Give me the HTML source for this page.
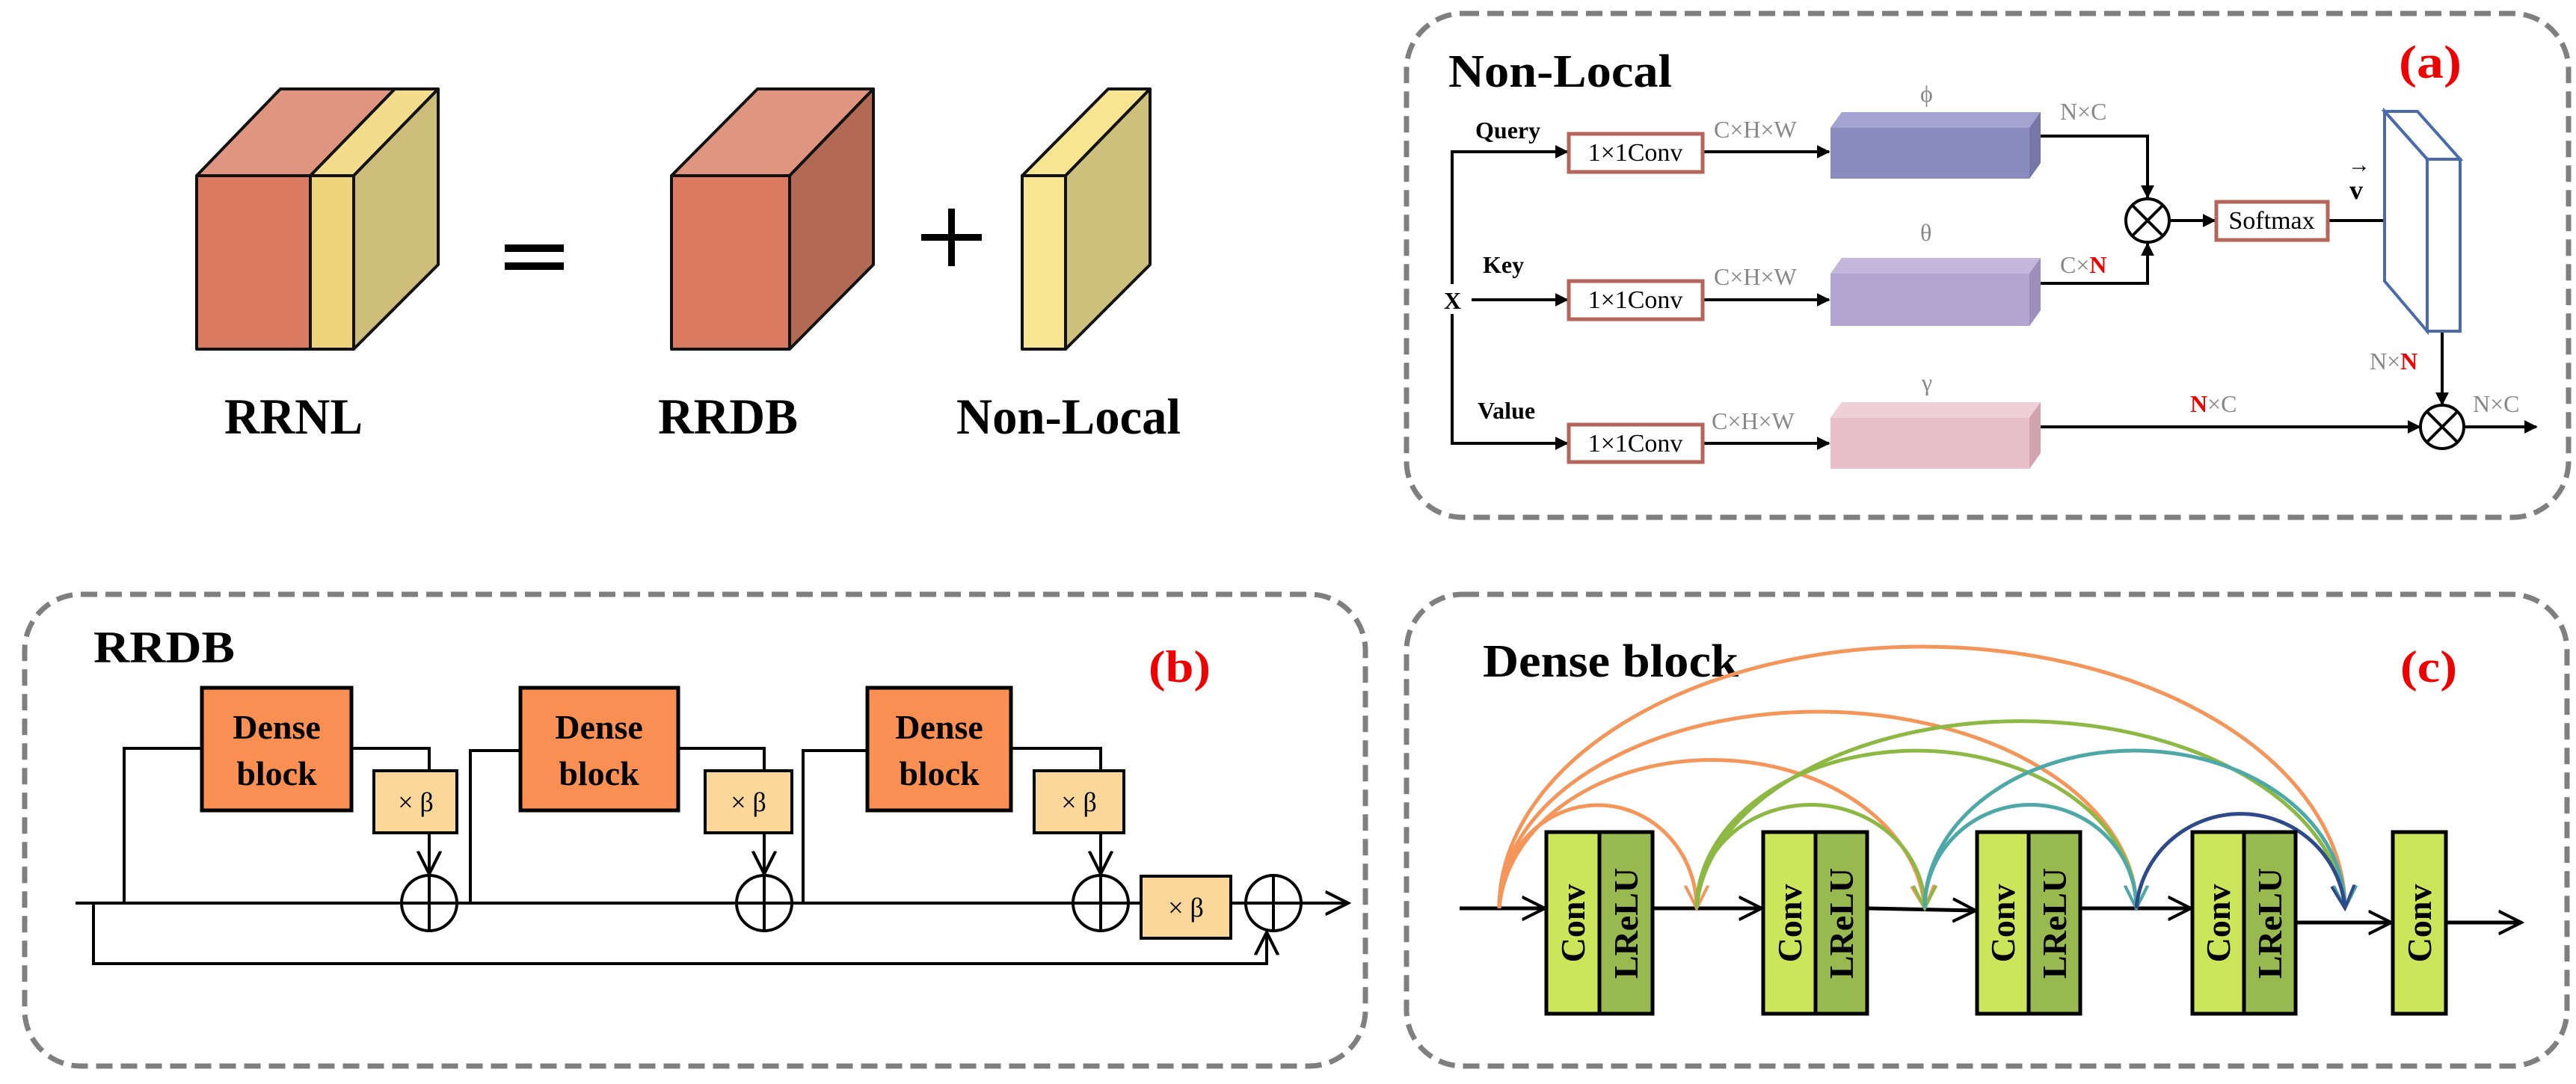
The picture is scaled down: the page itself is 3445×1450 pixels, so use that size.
<!DOCTYPE html>
<html><head><meta charset="utf-8"><style>
html,body{margin:0;padding:0;background:#fff}
svg{display:block}
text{font-family:"Liberation Serif",serif;font-weight:bold}
</style></head><body>
<svg width="3445" height="1450" viewBox="0 0 3445 1450" xmlns="http://www.w3.org/2000/svg">
<defs>
<marker id="ah" viewBox="0 0 10 10" refX="9" refY="5" markerWidth="7" markerHeight="7" orient="auto" markerUnits="userSpaceOnUse"><path d="M0,0 L10,5 L0,10 z" fill="#000"/></marker>
<marker id="ahs" viewBox="0 0 10 10" refX="9" refY="5" markerWidth="18" markerHeight="18" orient="auto" markerUnits="userSpaceOnUse"><path d="M0,0 L10,5 L0,10 z" fill="#000"/></marker>
<marker id="ov" viewBox="0 0 10 10" refX="9" refY="5" markerWidth="34" markerHeight="34" orient="auto" markerUnits="userSpaceOnUse"><path d="M0,0.5 L9,5 L0,9.5" fill="none" stroke="#000" stroke-width="1.2"/></marker>
<marker id="mo" viewBox="0 0 10 10" refX="9" refY="5" markerWidth="34" markerHeight="34" orient="auto" markerUnits="userSpaceOnUse"><path d="M0,0.5 L9,5 L0,9.5" fill="none" stroke="#f4955a" stroke-width="1.2"/></marker>
<marker id="mg" viewBox="0 0 10 10" refX="9" refY="5" markerWidth="34" markerHeight="34" orient="auto" markerUnits="userSpaceOnUse"><path d="M0,0.5 L9,5 L0,9.5" fill="none" stroke="#8db843" stroke-width="1.2"/></marker>
<marker id="mt" viewBox="0 0 10 10" refX="9" refY="5" markerWidth="34" markerHeight="34" orient="auto" markerUnits="userSpaceOnUse"><path d="M0,0.5 L9,5 L0,9.5" fill="none" stroke="#4fa8a8" stroke-width="1.2"/></marker>
<marker id="mn" viewBox="0 0 10 10" refX="9" refY="5" markerWidth="34" markerHeight="34" orient="auto" markerUnits="userSpaceOnUse"><path d="M0,0.5 L9,5 L0,9.5" fill="none" stroke="#2f4a8a" stroke-width="1.2"/></marker>
</defs>

<!-- Top-left cubes -->
<g stroke="#111" stroke-width="4" stroke-linejoin="round">
<polygon points="263,235 375,119 528,119 415,235" fill="#e09581"/>
<polygon points="415,235 528,119 586,119 473,235" fill="#f3dc8c"/>
<polygon points="473,235 586,119 586,354 473,467" fill="#cdbd7a"/>
<rect x="263" y="235" width="152" height="232" fill="#d97a61"/>
<rect x="415" y="235" width="58" height="232" fill="#f0d47c"/>
<polygon points="898,235 1013,119 1168,119 1056,235" fill="#e09581"/>
<polygon points="1056,235 1168,119 1168,354 1056,467" fill="#b36a55"/>
<rect x="898" y="235" width="158" height="232" fill="#d97a61"/>
<polygon points="1367,235 1482,119 1538,119 1425,235" fill="#f8e592"/>
<polygon points="1425,235 1538,119 1538,354 1425,467" fill="#cdbf7c"/>
<rect x="1367" y="235" width="58" height="232" fill="#f8e592"/>
</g>
<rect x="675" y="327" width="79" height="10" fill="#000"/>
<rect x="675" y="351" width="79" height="10" fill="#000"/>
<rect x="1232" y="313" width="81" height="9" fill="#000"/>
<rect x="1268" y="279" width="9" height="77" fill="#000"/>
<text x="300" y="580" font-size="68" textLength="185" lengthAdjust="spacingAndGlyphs">RRNL</text>
<text x="880" y="580" font-size="68" textLength="187" lengthAdjust="spacingAndGlyphs">RRDB</text>
<text x="1279" y="580" font-size="68" textLength="300" lengthAdjust="spacingAndGlyphs">Non-Local</text>

<!-- Panel a -->
<rect x="1881" y="18" width="1554" height="674" rx="75" fill="none" stroke="#7f7f7f" stroke-width="7" stroke-dasharray="22,11"/>
<text x="1937" y="116" font-size="62" textLength="299" lengthAdjust="spacingAndGlyphs">Non-Local</text>
<text x="3208" y="104" font-size="62" fill="#e00" textLength="84" lengthAdjust="spacingAndGlyphs">(a)</text>
<g stroke="#000" stroke-width="4" fill="none">
<polyline points="2000,203 1942,203 1942,380"/>
<polyline points="1942,420 1942,593 2000,593"/>
<line x1="1942" y1="203" x2="2096" y2="203" marker-end="url(#ahs)"/>
<line x1="1968" y1="401" x2="2096" y2="401" marker-end="url(#ahs)"/>
<line x1="1942" y1="593" x2="2096" y2="593" marker-end="url(#ahs)"/>
<line x1="2277" y1="203" x2="2446" y2="203" marker-end="url(#ahs)"/>
<line x1="2277" y1="401" x2="2446" y2="401" marker-end="url(#ahs)"/>
<line x1="2277" y1="593" x2="2446" y2="593" marker-end="url(#ahs)"/>
<polyline points="2729,182 2872,182 2872,264" marker-end="url(#ahs)"/>
<polyline points="2729,379 2872,379 2872,326" marker-end="url(#ahs)"/>
<line x1="2901" y1="295" x2="2962" y2="295" marker-end="url(#ahs)"/>
<line x1="3113" y1="295" x2="3215" y2="295" marker-end="url(#ahs)"/>
<line x1="2729" y1="571" x2="3236" y2="571" marker-end="url(#ahs)"/>
<line x1="3266" y1="443" x2="3266" y2="541" marker-end="url(#ahs)"/>
<line x1="3295" y1="571" x2="3392" y2="571" marker-end="url(#ahs)"/>
</g>
<g fill="#fff" stroke="#b5655a" stroke-width="5">
<rect x="2098" y="179" width="179" height="51"/>
<rect x="2098" y="376" width="179" height="51"/>
<rect x="2098" y="568" width="179" height="50"/>
<rect x="2964" y="270" width="149" height="51"/>
</g>
<g font-size="34" font-weight="normal">
<text x="2187" y="215" text-anchor="middle" style="font-weight:normal">1×1Conv</text>
<text x="2187" y="412" text-anchor="middle" style="font-weight:normal">1×1Conv</text>
<text x="2187" y="604" text-anchor="middle" style="font-weight:normal">1×1Conv</text>
<text x="3038" y="306" text-anchor="middle" style="font-weight:normal">Softmax</text>
</g>
<!-- feature boxes -->
<polygon points="2448,171 2463,150 2729,150 2729,218 2714,239 2448,239" fill="#8a8bbf"/>
<polygon points="2448,171 2463,150 2729,150 2714,171" fill="#a2a3cf"/>
<polygon points="2714,171 2729,150 2729,218 2714,239" fill="#7677a8"/>
<polygon points="2448,366 2463,345 2729,345 2729,415 2714,436 2448,436" fill="#b3a5cf"/>
<polygon points="2448,366 2463,345 2729,345 2714,366" fill="#c3b8dc"/>
<polygon points="2714,366 2729,345 2729,415 2714,436" fill="#9d8fbb"/>
<polygon points="2448,559 2463,538 2729,538 2729,606 2714,627 2448,627" fill="#e8bfca"/>
<polygon points="2448,559 2463,538 2729,538 2714,559" fill="#efd0d8"/>
<polygon points="2714,559 2729,538 2729,606 2714,627" fill="#cfa3af"/>
<!-- V block -->
<g fill="#fff" stroke="#4a6aab" stroke-width="4">
<polygon points="3189,149 3233,149 3290,213 3246,213"/>
<polygon points="3189,149 3246,213 3246,443 3189,376"/>
<rect x="3246" y="213" width="44" height="230"/>
</g>
<!-- otimes -->
<g stroke="#000" stroke-width="4" fill="#fff">
<circle cx="2872" cy="295" r="29"/>
<line x1="2852" y1="275" x2="2892" y2="315"/><line x1="2892" y1="275" x2="2852" y2="315"/>
<circle cx="3266" cy="571" r="29"/>
<line x1="3246" y1="551" x2="3286" y2="591"/><line x1="3286" y1="551" x2="3246" y2="591"/>
</g>
<g font-size="32">
<text x="1973" y="185">Query</text>
<text x="1983" y="365">Key</text>
<text x="1931" y="413">X</text>
<text x="1976" y="560">Value</text>
<text x="3142" y="266" font-size="36">v</text>
<text x="3140" y="230" font-size="30">→</text>
</g>
<g font-size="32" fill="#888" style="font-weight:normal">
<text x="2292" y="184" style="font-weight:normal">C×H×W</text>
<text x="2292" y="381" style="font-weight:normal">C×H×W</text>
<text x="2289" y="574" style="font-weight:normal">C×H×W</text>
<text x="2568" y="136" style="font-weight:normal">ϕ</text>
<text x="2568" y="322" style="font-weight:normal">θ</text>
<text x="2570" y="522" style="font-weight:normal">γ</text>
<text x="2755" y="160" style="font-weight:normal">N×C</text>
<text x="2755" y="365" style="font-weight:normal">C×<tspan fill="#e00" font-weight="bold">N</tspan></text>
<text x="3169" y="494" style="font-weight:normal">N×<tspan fill="#e00" font-weight="bold">N</tspan></text>
<text x="2929" y="551" style="font-weight:normal"><tspan fill="#e00" font-weight="bold">N</tspan>×C</text>
<text x="3307" y="551" style="font-weight:normal">N×C</text>
</g>

<!-- Panel b -->
<rect x="33" y="795" width="1793" height="631" rx="75" fill="none" stroke="#7f7f7f" stroke-width="7" stroke-dasharray="22,11"/>
<text x="125" y="886" font-size="60" textLength="189" lengthAdjust="spacingAndGlyphs">RRDB</text>
<text x="1536" y="912" font-size="60" fill="#e00" textLength="83" lengthAdjust="spacingAndGlyphs">(b)</text>
<g stroke="#000" stroke-width="4" fill="none">
<line x1="101" y1="1208" x2="1803" y2="1208" marker-end="url(#ov)"/>
<polyline points="166,1208 166,1001 270,1001"/>
<polyline points="470,1001 574,1001 574,1031"/>
<line x1="574" y1="1114" x2="574" y2="1169" marker-end="url(#ov)"/>
<polyline points="629,1208 629,1004 696,1004"/>
<polyline points="907,1001 1022,1001 1022,1031"/>
<line x1="1022" y1="1114" x2="1022" y2="1169" marker-end="url(#ov)"/>
<polyline points="1074,1208 1074,1004 1160,1004"/>
<polyline points="1352,1001 1472,1001 1472,1031"/>
<line x1="1472" y1="1114" x2="1472" y2="1169" marker-end="url(#ov)"/>
<polyline points="125,1208 125,1289 1694,1289 1694,1247" marker-end="url(#ov)"/>
</g>
<g stroke="#000" stroke-width="5" fill="#f98f53">
<rect x="270" y="920" width="200" height="164"/>
<rect x="696" y="920" width="211" height="164"/>
<rect x="1160" y="920" width="192" height="164"/>
</g>
<g stroke="#000" stroke-width="4" fill="#fbd89a">
<rect x="500" y="1031" width="111" height="83"/>
<rect x="943" y="1031" width="116" height="83"/>
<rect x="1383" y="1031" width="120" height="83"/>
<rect x="1526" y="1172" width="120" height="83"/>
</g>
<g font-size="46" text-anchor="middle">
<text x="370" y="988">Dense</text><text x="370" y="1050">block</text>
<text x="801" y="988">Dense</text><text x="801" y="1050">block</text>
<text x="1256" y="988">Dense</text><text x="1256" y="1050">block</text>
</g>
<g font-size="36" text-anchor="middle" style="font-weight:normal">
<text x="556" y="1085" style="font-weight:normal">× β</text>
<text x="1001" y="1085" style="font-weight:normal">× β</text>
<text x="1443" y="1085" style="font-weight:normal">× β</text>
<text x="1586" y="1226" style="font-weight:normal">× β</text>
</g>
<g stroke="#000" stroke-width="4" fill="none">
<circle cx="574" cy="1208" r="37"/><line x1="537" y1="1208" x2="611" y2="1208"/><line x1="574" y1="1171" x2="574" y2="1245"/>
<circle cx="1022" cy="1208" r="37"/><line x1="985" y1="1208" x2="1059" y2="1208"/><line x1="1022" y1="1171" x2="1022" y2="1245"/>
<circle cx="1472" cy="1208" r="37"/><line x1="1435" y1="1208" x2="1509" y2="1208"/><line x1="1472" y1="1171" x2="1472" y2="1245"/>
<circle cx="1703" cy="1208" r="37"/><line x1="1666" y1="1208" x2="1740" y2="1208"/><line x1="1703" y1="1171" x2="1703" y2="1245"/>
</g>

<!-- Panel c -->
<rect x="1881" y="795" width="1552" height="631" rx="75" fill="none" stroke="#7f7f7f" stroke-width="7" stroke-dasharray="22,11"/>
<text x="1983" y="905" font-size="62" textLength="342" lengthAdjust="spacingAndGlyphs">Dense block</text>
<text x="3210" y="912" font-size="60" fill="#e00" textLength="76" lengthAdjust="spacingAndGlyphs">(c)</text>
<g stroke="#000" stroke-width="5" fill="none">
<line x1="1952" y1="1215" x2="2066" y2="1215" marker-end="url(#ov)"/>
<line x1="2210" y1="1215" x2="2356" y2="1215" marker-end="url(#ov)"/>
<line x1="2497" y1="1215" x2="2642" y2="1218" marker-end="url(#ov)"/>
<line x1="2782" y1="1215" x2="2930" y2="1215" marker-end="url(#ov)"/>
<line x1="3070" y1="1234" x2="3198" y2="1234" marker-end="url(#ov)"/>
<line x1="3271" y1="1234" x2="3372" y2="1234" marker-end="url(#ov)"/>
</g>
<g fill="none" stroke-width="5">
<path d="M2005,1215 A551,341 0 0 1 3136,1215" stroke="#f4955a" marker-end="url(#mo)"/>
<path d="M2005,1215 A426,263 0 0 1 2857,1215" stroke="#f4955a" marker-end="url(#mo)"/>
<path d="M2005,1215 A285,211 0 0 1 2574,1215" stroke="#f4955a" marker-end="url(#mo)"/>
<path d="M2005,1215 A132,138 0 0 1 2269,1215" stroke="#f4955a" marker-end="url(#mo)"/>
<path d="M2269,1215 A434,263 0 0 1 3136,1215" stroke="#8db843" marker-end="url(#mg)"/>
<path d="M2269,1215 A294,211 0 0 1 2857,1215" stroke="#8db843" marker-end="url(#mg)"/>
<path d="M2269,1215 A152,138 0 0 1 2574,1215" stroke="#8db843" marker-end="url(#mg)"/>
<path d="M2574,1215 A281,211 0 0 1 3136,1215" stroke="#4fa8a8" marker-end="url(#mt)"/>
<path d="M2574,1215 A141,138 0 0 1 2857,1215" stroke="#4fa8a8" marker-end="url(#mt)"/>
<path d="M2857,1215 A140,138 0 0 1 3136,1215" stroke="#2f4a8a" marker-end="url(#mn)"/>
</g>
<g stroke="#000" stroke-width="5">
<rect x="2068" y="1113" width="71" height="243" fill="#cde55a"/><rect x="2139" y="1113" width="71" height="243" fill="#98b94f"/>
<rect x="2358" y="1113" width="70" height="243" fill="#cde55a"/><rect x="2428" y="1113" width="69" height="243" fill="#98b94f"/>
<rect x="2644" y="1113" width="69" height="243" fill="#cde55a"/><rect x="2713" y="1113" width="69" height="243" fill="#98b94f"/>
<rect x="2932" y="1113" width="69" height="243" fill="#cde55a"/><rect x="3001" y="1113" width="69" height="243" fill="#98b94f"/>
<rect x="3200" y="1113" width="71" height="243" fill="#cde55a"/>
</g>
<g font-size="46" text-anchor="middle">
<text transform="translate(2119,1235) rotate(-90)">Conv</text>
<text transform="translate(2190,1235) rotate(-90)">LReLU</text>
<text transform="translate(2409,1235) rotate(-90)">Conv</text>
<text transform="translate(2478,1235) rotate(-90)">LReLU</text>
<text transform="translate(2694,1235) rotate(-90)">Conv</text>
<text transform="translate(2763,1235) rotate(-90)">LReLU</text>
<text transform="translate(2982,1235) rotate(-90)">Conv</text>
<text transform="translate(3051,1235) rotate(-90)">LReLU</text>
<text transform="translate(3251,1235) rotate(-90)">Conv</text>
</g>
</svg>
</body></html>
